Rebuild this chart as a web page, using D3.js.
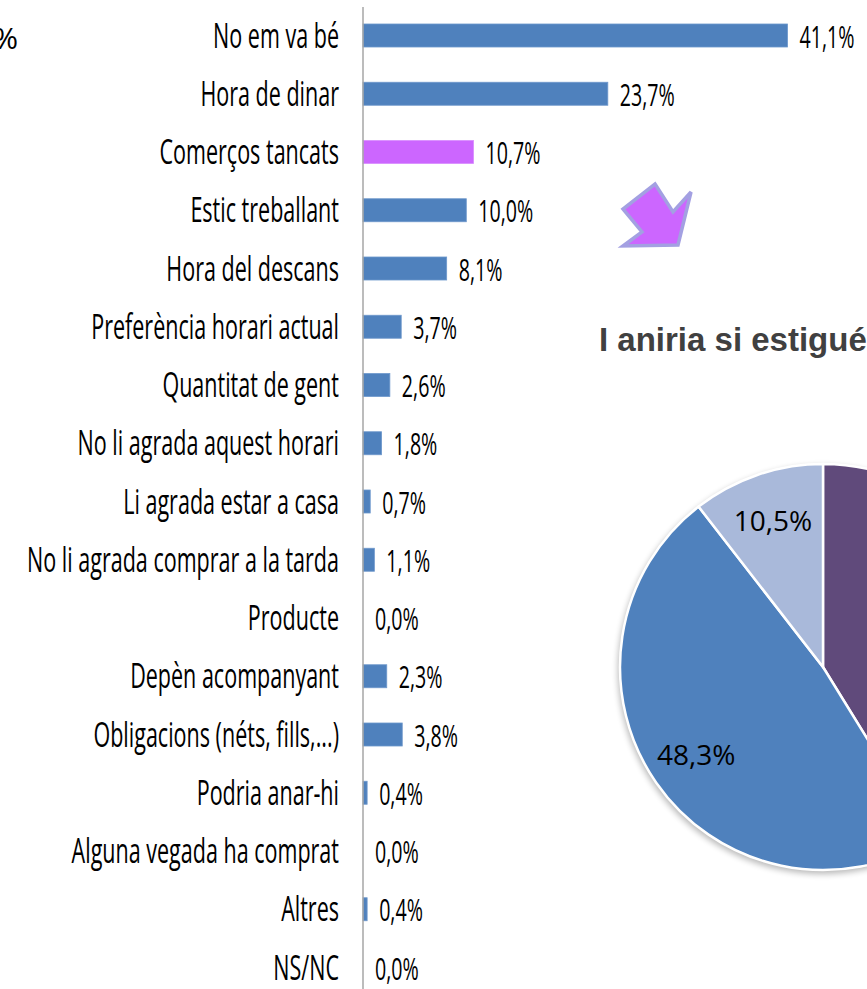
<!DOCTYPE html>
<html>
<head>
<meta charset="utf-8">
<script src="https://cdn.jsdelivr.net/npm/d3@7/dist/d3.min.js"></script>
<style>
  html, body { margin: 0; padding: 0; background: #ffffff; }
  svg { display: block; }
</style>
</head>
<body>
<svg id="chart" width="867" height="989"></svg>
<script>
// ---------------- DATA ----------------
const categories = [
  "No em va bé",
  "Hora de dinar",
  "Comerços tancats",
  "Estic treballant",
  "Hora del descans",
  "Preferència horari actual",
  "Quantitat de gent",
  "No li agrada aquest horari",
  "Li agrada estar a casa",
  "No li agrada comprar a la tarda",
  "Producte",
  "Depèn acompanyant",
  "Obligacions (néts, fills,...)",
  "Podria anar-hi",
  "Alguna vegada ha comprat",
  "Altres",
  "NS/NC"
];
const values = [41.1, 23.7, 10.7, 10.0, 8.1, 3.7, 2.6, 1.8, 0.7, 1.1, 0.0, 2.3, 3.8, 0.4, 0.0, 0.4, 0.0];
const highlighted = ["Comerços tancats"];

const pieTitle = "I aniria si estigués obert?";
const pieCategories = ["Sí", "No", "NS/NC"];
const pieValues = [41.2, 48.3, 10.5];

const cornerText = "%";

// ---------------- SETUP ----------------
const svg = d3.select("#chart");
const W = 867, H = 989;

const locale = d3.formatLocale({decimal: ",", thousands: ".", grouping: [3], currency: ["", "€"]});
const fmt = locale.format(".1f");

const catFont = "'Open Sans', 'Noto Sans', sans-serif";
const valFont = "'Open Sans', 'Noto Sans', sans-serif";

const step = 58.25;
const firstCenter = 35.5;
const y = d3.scaleBand()
  .domain(categories)
  .range([firstCenter - step / 2, firstCenter - step / 2 + step * categories.length])
  .paddingInner(0.605)
  .paddingOuter(0.3025);

const x0 = 363;
const x = d3.scaleLinear().domain([0, 45]).range([x0, x0 + 45 * 10.33]);

// ---------------- BARS ----------------
const barG = svg.append("g");
barG.selectAll("rect")
  .data(categories.map((c, i) => ({c, v: values[i]})))
  .join("rect")
  .attr("x", x(0))
  .attr("y", d => y(d.c))
  .attr("width", d => x(d.v) - x(0))
  .attr("height", y.bandwidth())
  .attr("fill", d => highlighted.includes(d.c) ? "#CC66FF" : "#4F81BD")
  .attr("stroke", d => d.v > 0 ? (highlighted.includes(d.c) ? "#D98CFF" : "#6E98CC") : "none")
  .attr("stroke-width", 0.8);

// axis line
const axis = d3.axisLeft(y).tickSize(0).tickSizeOuter(0).tickFormat("");
const axG = svg.append("g").attr("transform", `translate(${x0 - 0.5},0)`).call(axis);
axG.select(".domain").attr("stroke", "#A6A6A6").attr("stroke-width", 1.5);
axG.selectAll(".tick").remove();

// ---------------- CATEGORY LABELS ----------------
const catSize = 35;
const measure = svg.append("text")
  .attr("font-family", catFont).attr("font-size", catSize)
  .text("No li agrada comprar a la tarda");
const longW = measure.node().getComputedTextLength();
measure.remove();
const catScale = 312 / longW;

const labG = svg.append("g");
labG.selectAll("g")
  .data(categories)
  .join("g")
  .attr("transform", d => `translate(339,${y(d) + y.bandwidth() / 2 + 12}) scale(${catScale},1)`)
  .append("text")
  .attr("text-anchor", "end")
  .attr("font-family", catFont)
  .attr("font-size", catSize)
  .attr("fill", "#000")
  .text(d => d);

// corner text (cut off at the left edge, as in the source)
svg.append("text")
  .attr("x", 18)
  .attr("y", 49)
  .attr("text-anchor", "end")
  .attr("font-family", catFont)
  .attr("font-size", 30)
  .attr("fill", "#000")
  .text(cornerText);

// ---------------- VALUE LABELS ----------------
const valSize = 31;
const m2 = svg.append("text").attr("font-family", valFont).attr("font-size", valSize).text("10,7%");
const valScale = 55 / m2.node().getComputedTextLength();
m2.remove();

svg.append("g").selectAll("g")
  .data(categories.map((c, i) => ({c, v: values[i]})))
  .join("g")
  .attr("transform", d => `translate(${x(d.v) + 12},${y(d.c) + y.bandwidth() / 2 + 12}) scale(${valScale},1)`)
  .append("text")
  .attr("font-family", valFont)
  .attr("font-size", valSize)
  .attr("fill", "#000")
  .text(d => fmt(d.v) + "%");

// ---------------- ARROW (decoration) ----------------
svg.append("path")
  .attr("d", "M655,184 L673,212 L691,192 L678,245 L623,246 L642,232 L623,209 Z")
  .attr("fill", "#CC66FF")
  .attr("stroke", "#A3A0E2")
  .attr("stroke-width", 3.5)
  .attr("stroke-linejoin", "miter");

// ---------------- PIE ----------------
svg.append("text")
  .attr("x", 599)
  .attr("y", 351)
  .attr("font-family", "'Liberation Sans', Arial, sans-serif")
  .attr("font-weight", "bold")
  .attr("font-size", 33)
  .attr("fill", "#404040")
  .text(pieTitle);

const defs = svg.append("defs");
const filt = defs.append("filter").attr("id", "shadow").attr("x", "-20%").attr("y", "-20%").attr("width", "140%").attr("height", "140%");
filt.append("feGaussianBlur").attr("stdDeviation", 3);

const cx = 823, cy = 667, R = 203;
const pieG = svg.append("g").attr("transform", `translate(${cx},${cy})`);
pieG.append("circle")
  .attr("cx", -1).attr("cy", 3).attr("r", R + 1)
  .attr("fill", "#000").attr("opacity", 0.28)
  .attr("filter", "url(#shadow)");

const pieColors = d3.scaleOrdinal().domain(pieCategories).range(["#604A7B", "#4F81BD", "#A9B9DA"]);
const pie = d3.pie().sort(null).value(d => d.v);
const arcs = pie(pieCategories.map((c, i) => ({c, v: pieValues[i]})));
const arc = d3.arc().innerRadius(0).outerRadius(R);
const labelArc = d3.arc().innerRadius(R * 0.76).outerRadius(R * 0.76);

pieG.selectAll("path")
  .data(arcs)
  .join("path")
  .attr("d", arc)
  .attr("fill", d => pieColors(d.data.c))
  .attr("stroke", "#ffffff")
  .attr("stroke-width", 2.5);

// labels: only those whose anchor falls inside the visible (cropped) area
pieG.selectAll("text.pl")
  .data(arcs.filter(d => cx + labelArc.centroid(d)[0] < W - 40))
  .join("text")
  .attr("class", "pl")
  .attr("transform", d => `translate(${labelArc.centroid(d)})`)
  .attr("text-anchor", "middle")
  .attr("dy", "0.36em")
  .attr("font-family", "'Open Sans', 'Noto Sans', sans-serif")
  .attr("font-size", 28)
  .attr("fill", "#000")
  .text(d => fmt(d.data.v) + "%");
</script>
</body>
</html>
